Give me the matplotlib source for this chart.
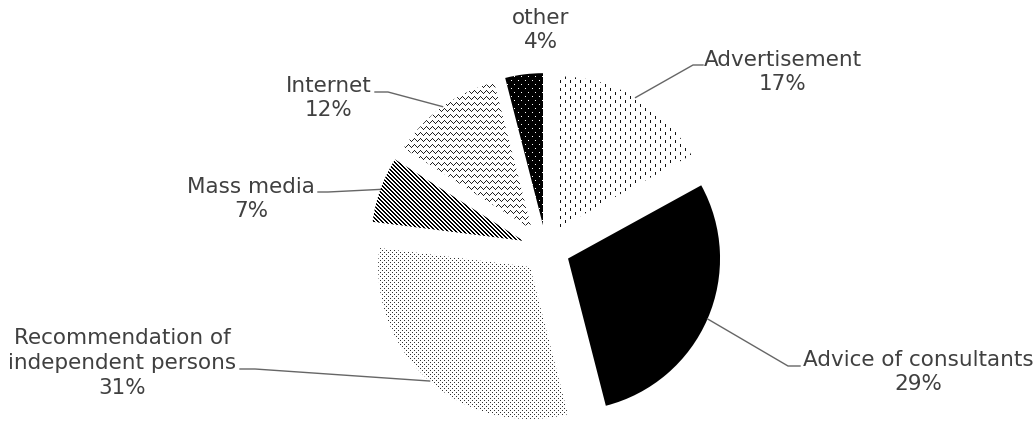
import numpy as np
import matplotlib
matplotlib.use("Agg")
import matplotlib.pyplot as plt
from matplotlib.colors import to_rgba

W, H = 1035, 421

labels = ["Advertisement", "Advice of consultants",
          "Recommendation of\nindependent persons", "Mass media",
          "Internet", "other"]
shares = [17, 29, 31, 7, 12, 4]
pct_labels = ["17%", "29%", "31%", "7%", "12%", "4%"]

# label block centres and leader elbows, pixels from the top-left corner
label_pos = [(783, 72), (918, 372), (122, 363), (251, 199), (329, 98), (541, 30)]
elbows = [((693, 65), (703, 65)), ((788, 366), (800, 366)),
          ((255, 369), (240, 369)), ((328, 192), (318, 192)),
          ((388, 92), (375, 92)), None]

yy, xx = np.mgrid[0:H, 0:W]


def texture(mask, fg, bg="white"):
    img = np.empty((H, W, 4))
    img[:] = to_rgba(bg)
    img[mask] = to_rgba(fg)
    return img


tri = np.array([0, 1, 2, 3, 2, 1])
textures = [
    texture(((xx % 5) == 0) & (((yy + 4 * ((xx // 5) % 2)) % 8) < 3), "#111111"),
    texture(np.ones((H, W), bool), "black"),
    texture(((xx % 4 == 0) & (yy % 4 == 0)) | ((xx % 4 == 2) & (yy % 4 == 2)), "#333333"),
    texture(((xx - yy) % 4) < 2, "black"),
    texture(((yy - tri[xx % 6]) % 6) == 0, "#222222"),
    texture(((xx % 7 == 0) & (yy % 8 == 0)) | ((xx % 7 == 3) & (yy % 8 == 4)), "white", "black"),
]

fig = plt.figure(figsize=(W / 100, H / 100), dpi=100)
ax = fig.add_axes([0, 0, 1, 1])
wedges, _ = ax.pie(shares, explode=[24] * len(shares), startangle=90,
                   counterclock=False, radius=152, center=(546, H - 249),
                   colors=["white"] * len(shares), wedgeprops=dict(linewidth=0))

for w, tex in zip(wedges, textures):
    im = ax.imshow(tex, extent=(0, W, 0, H), origin="upper",
                   interpolation="nearest", zorder=2)
    im.set_clip_path(w)

txt_color = "#404040"
for w, lab, pct, pos, elb in zip(wedges, labels, pct_labels, label_pos, elbows):
    ax.text(pos[0], H - pos[1], f"{lab}\n{pct}", ha="center", va="center",
            fontsize=15.5, color=txt_color, linespacing=1.3, zorder=4)
    if elb is None:
        continue
    mid = np.deg2rad(0.5 * (w.theta1 + w.theta2))
    ax0 = w.center[0] + w.r * np.cos(mid)
    ay0 = w.center[1] + w.r * np.sin(mid)
    xs = [ax0, elb[0][0], elb[1][0]]
    ys = [ay0, H - elb[0][1], H - elb[1][1]]
    ax.plot(xs, ys, color="#666666", lw=1, zorder=3)

ax.set_xlim(0, W)
ax.set_ylim(0, H)
ax.axis("off")
fig.savefig("out.png", dpi=100)
